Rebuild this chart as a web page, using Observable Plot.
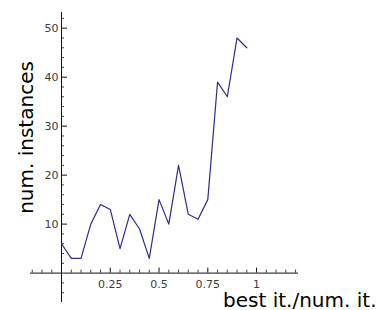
<!DOCTYPE html>
<html>
<head>
<meta charset="utf-8">
<script src="https://cdn.jsdelivr.net/npm/d3@7"></script>
<script src="https://cdn.jsdelivr.net/npm/@observablehq/plot@0.6"></script>
<style>
  html, body { margin: 0; padding: 0; background: #fff; }
  #chart svg { display: block; }
</style>
</head>
<body>
<div id="chart"></div>
<script>
// Data
const ratios = [0, 0.05, 0.1, 0.15, 0.2, 0.25, 0.3, 0.35, 0.4, 0.45, 0.5, 0.55, 0.6, 0.65, 0.7, 0.75, 0.8, 0.85, 0.9, 0.95];
const counts = [6, 3, 3, 10, 14, 13, 5, 12, 9, 3, 15, 10, 22, 12, 11, 15, 39, 36, 48, 46];

// Tick values and labels
const xTicks = [0.25, 0.5, 0.75, 1];
const xTickLabels = ["0.25", "0.5", "0.75", "1"];
const yTicks = [10, 20, 30, 40, 50];
const yTickLabels = ["10", "20", "30", "40", "50"];
const xMinor = d3.range(-3, 25).filter(i => i % 5 !== 0).map(i => i * 0.05);
const yMinor = d3.range(-2, 27).filter(i => i % 5 !== 0).map(i => i * 2);

const xLabel = "best it./num. it.";
const yLabel = "num. instances";

const data = ratios.map((r, i) => ({r, n: counts[i]}));

const textColor = "#3a3a3a";
const lineColor = "#2d2d8f";

const chart = Plot.plot({
  width: 377,
  height: 310,
  marginLeft: 30,
  marginRight: 79,
  marginTop: 12,
  marginBottom: 8,
  style: {fontFamily: "DejaVu Sans", fontSize: "11px", background: "#fff"},
  x: {domain: [-0.159, 1.215], axis: null},
  y: {domain: [-6, 53.2], axis: null},
  marks: [
    // axes through the origin
    Plot.ruleY([0], {stroke: "#111", strokeWidth: 1}),
    Plot.ruleX([0], {stroke: "#111", strokeWidth: 1}),
    // x ticks (pointing up)
    Plot.ruleX(xTicks, {x: d => d, y1: d => 0, y2: d => 0, insetTop: -5, stroke: "#111"}),
    Plot.ruleX(xMinor, {x: d => d, y1: d => 0, y2: d => 0, insetTop: -3, stroke: "#111", strokeWidth: 0.8}),
    // y ticks (pointing right)
    Plot.ruleY(yTicks, {y: d => d, x1: d => 0, x2: d => 0, insetRight: -6, stroke: "#111"}),
    Plot.ruleY(yMinor, {y: d => d, x1: d => 0, x2: d => 0, insetRight: -3, stroke: "#111", strokeWidth: 0.8}),
    // tick labels
    Plot.text(xTicks, {x: d => d, y: d => 0, text: (d, i) => xTickLabels[i], dy: 14.5, lineAnchor: "bottom", fill: textColor, fontSize: 11}),
    Plot.text(yTicks, {x: d => 0, y: d => d, text: (d, i) => yTickLabels[i], dx: -3, textAnchor: "end", lineAnchor: "middle", fill: textColor, fontSize: 11}),
    // data line
    Plot.line(data, {x: "r", y: "n", stroke: lineColor, strokeWidth: 1.2}),
    // axis titles
    Plot.text([xLabel], {frameAnchor: "bottom-right", text: d => d, dx: 78, dy: 4, textAnchor: "end", lineAnchor: "bottom", fontSize: 20, fill: "#000"}),
    Plot.text([yLabel], {frameAnchor: "left", text: d => d, rotate: -90, dx: 2, dy: -20, textAnchor: "middle", lineAnchor: "bottom", fontSize: 20, fill: "#000"})
  ]
});

document.getElementById("chart").appendChild(chart);
</script>
</body>
</html>
